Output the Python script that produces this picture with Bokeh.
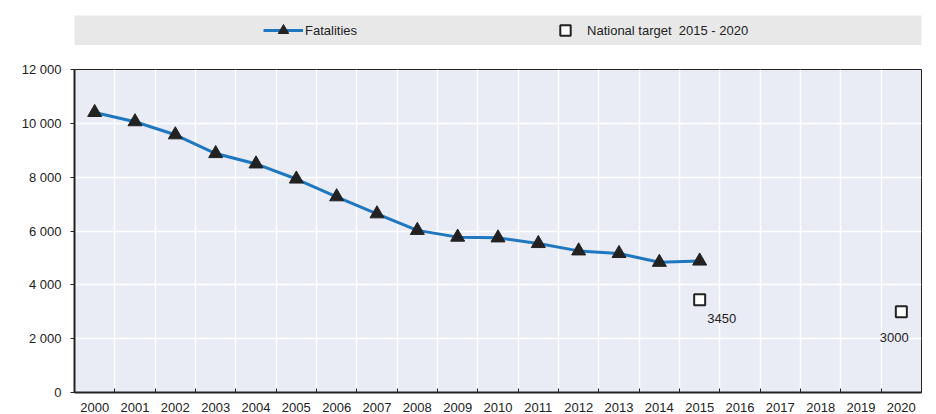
from bokeh.plotting import figure
from bokeh.layouts import column
from bokeh.models import (FixedTicker, Legend, LegendItem, ColumnDataSource, LabelSet, Range1d)
from bokeh.core.properties import value
from bokeh.embed import file_html
from bokeh.resources import INLINE

years = list(range(2000, 2016))
fatalities = [10403, 10060, 9575, 8877, 8492, 7931, 7272, 6639, 6023, 5772,
              5745, 5535, 5261, 5165, 4838, 4885]
target_years = [2015, 2020]
target_values = [3450, 3000]
target_labels = ["3450", "3000"]
all_years = list(range(2000, 2021))
y_ticks = [0, 2000, 4000, 6000, 8000, 10000, 12000]
y_tick_labels = ["0", "2 000", "4 000", "6 000", "8 000", "10 000", "12 000"]
series_names = ["Fatalities", "National target  2015 - 2020"]

FONT = "Liberation Sans"
FS = "13px"
BLUE = "#1f77c0"
INK = "#222222"
BAND = "#e8e8e8"

# ---------- main chart ----------
p = figure(width=928, height=369, output_backend="svg", toolbar_location=None,
           x_range=Range1d(all_years[0] - 0.5, all_years[-1] + 0.5),
           y_range=Range1d(y_ticks[0], y_ticks[-1]),
           min_border_left=72, min_border_right=7, min_border_top=24, min_border_bottom=21)
p.background_fill_color = "#e9ecf5"
p.border_fill_color = "white"
p.outline_line_color = INK
p.outline_line_width = 1

p.xaxis.ticker = FixedTicker(ticks=all_years, minor_ticks=[y + 0.5 for y in all_years[:-1]])
p.xaxis.major_tick_line_color = None
p.xaxis.minor_tick_in = 4
p.xaxis.minor_tick_out = 0
p.xaxis.minor_tick_line_color = INK
p.xaxis.minor_tick_line_width = 1
p.xaxis.axis_line_width = 2
p.xaxis.axis_line_color = INK
p.xaxis.major_label_standoff = 4
p.yaxis.ticker = FixedTicker(ticks=y_ticks)
p.yaxis.major_label_overrides = {t: l for t, l in zip(y_ticks, y_tick_labels)}
p.yaxis.minor_tick_line_color = None
p.yaxis.major_tick_in = 0
p.yaxis.major_tick_out = 4
p.yaxis.major_tick_line_color = INK
p.yaxis.axis_line_width = 2
p.yaxis.axis_line_color = INK
p.yaxis.major_label_standoff = 9
for ax in (p.xaxis, p.yaxis):
    ax.major_label_text_font = FONT
    ax.major_label_text_font_size = FS
    ax.major_label_text_color = INK

p.xgrid.grid_line_color = None
p.xgrid.minor_grid_line_color = "white"
p.xgrid.minor_grid_line_width = 1.5
p.ygrid.grid_line_color = "white"
p.ygrid.grid_line_width = 1.5

src = ColumnDataSource(dict(x=years, y=fatalities))
tsrc = ColumnDataSource(dict(x=target_years, y=target_values, t=target_labels,
                             dx=[22, -7], dy=[-19, -26]))
LINE_STYLE = dict(line_color=BLUE, line_width=3)
TRI_STYLE = dict(marker="triangle", size=14, fill_color=INK, line_color=INK)
SQ_STYLE = dict(marker="square", size=11, fill_color="white", line_color=INK, line_width=2)

p.line("x", "y", source=src, **LINE_STYLE)
p.scatter("x", "y", source=src, **TRI_STYLE)
p.scatter("x", "y", source=tsrc, **SQ_STYLE)
labels = LabelSet(x="x", y="y", text="t", source=tsrc, x_offset="dx", y_offset="dy",
                  text_align="center", text_baseline="middle", text_font=value(FONT),
                  text_font_size=FS, text_color=INK)
p.add_layout(labels)

# ---------- legend band (its own small figure; the series are outside its view) ----------
lg = figure(width=928, height=45, output_backend="svg", toolbar_location=None,
            x_range=Range1d(0, 1), y_range=Range1d(0, 1),
            x_axis_type=None, y_axis_type=None,
            min_border_left=74, min_border_right=5, min_border_top=15, min_border_bottom=0)
lg.background_fill_color = BAND
lg.border_fill_color = "white"
lg.outline_line_color = None
lg.grid.visible = False
l_ln = lg.line("x", "y", source=src, **LINE_STYLE)
l_tri = lg.scatter("x", "y", source=src, **TRI_STYLE)
l_sq = lg.scatter("x", "y", source=tsrc, **SQ_STYLE)

legend = Legend(items=[LegendItem(label=series_names[0], renderers=[l_ln, l_tri]),
                       LegendItem(label=series_names[1], renderers=[l_sq])],
                orientation="horizontal", location=(189, 2),
                glyph_width=40, glyph_height=26, label_standoff=2, spacing=188, padding=0,
                margin=0, background_fill_alpha=0, border_line_color=None,
                label_text_font=FONT, label_text_font_size=FS, label_text_color=INK,
                label_height=26)
lg.add_layout(legend)

layout = column(lg, p, spacing=0)
open("out.html", "w").write(file_html(layout, INLINE))
